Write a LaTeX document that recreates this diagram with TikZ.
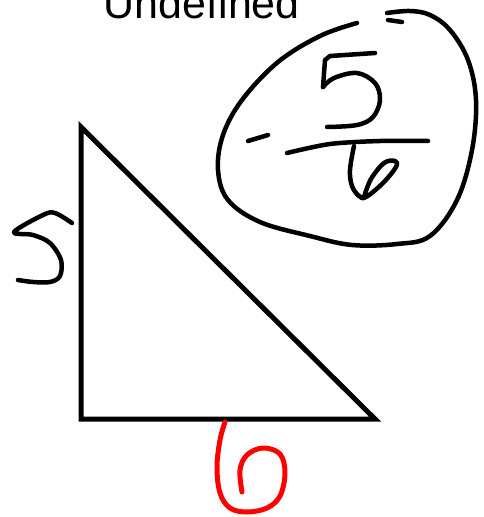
\documentclass[tikz,border=0pt]{standalone}
\usepackage{fontspec}
\setmainfont{Liberation Sans}
\begin{document}
\begin{tikzpicture}[x=1pt,y=-1pt,
  ink/.style={line width=4.5pt,line cap=round,line join=round,black},
  redink/.style={line width=5pt,line cap=round,line join=round,red},
  tri/.style={line width=5pt,black}]
\useasboundingbox (0,0) rectangle (483,517);
\fill[white] (0,0) rectangle (483,517);
% title
\node[anchor=base west,inner sep=0pt,font=\fontsize{43}{50}\selectfont] (title) at (103.6,18.5) {Undefined};
% triangle
\coordinate (A) at (81,127);
\coordinate (B) at (81,419);
\coordinate (C) at (375,419);
\draw[tri] (A) -- (B) -- (C) -- cycle;
% blob
\draw[ink] plot[smooth,tension=0.6] coordinates {(357,23) (320,36) (278,62) (242,100) (223,135) (218,170) (228,200) (260,222) (310,236) (352,245) (397,244) (430,236) (457,200) (472,150) (476,100) (468,60) (450,30) (430,15) (410,11) (387,13)};
\draw[ink] (388,20) -- (402,22);
% minus sign
\draw[ink] (248,141) -- (268,135);
% fraction bar
\draw[ink] plot[smooth,tension=0.5] coordinates {(287,153) (330,144) (380,141) (428,141)};
% numerator 5
\draw[ink] (375,53) -- (330,56) -- (325,60) -- (323,87);
\draw[ink] plot[smooth,tension=0.6] coordinates {(323,87) (334,78) (357,73) (375,83) (380,100) (373,117) (357,125) (327,127)};
% denominator 6
\draw[ink] plot[smooth,tension=0.6] coordinates {(354,146) (350,170) (352,186) (359,196) (366,197) (383,183) (396,167) (395,161) (384,163) (371,179) (364,197)};
% left 5
\draw[ink] plot[smooth,tension=0.55] coordinates {(72,223) (55,213) (43,215) (14,232) (33,235) (50,243) (61,260) (60,276) (50,282) (33,282) (18,280)};
% red 6
\draw[redink] plot[smooth,tension=0.6] coordinates {(225,422) (220,440) (217,467) (220,493) (230,508) (247,512) (267,508) (280,496) (285,473) (280,454) (263,448) (247,455) (240,470) (242,492)};
\end{tikzpicture}
\end{document}
